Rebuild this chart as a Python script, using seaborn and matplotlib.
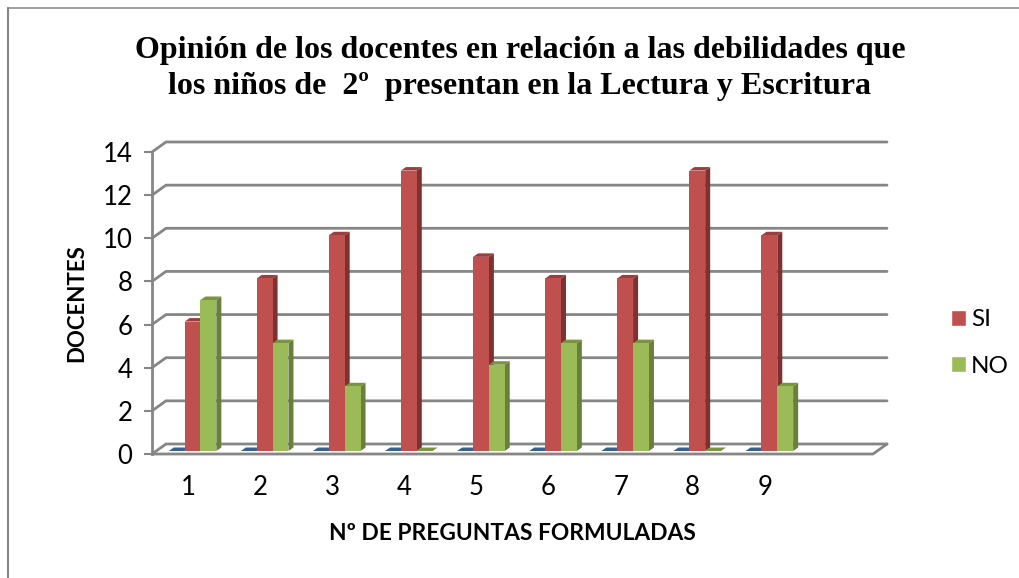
import numpy as np
import pandas as pd
import seaborn as sns
import matplotlib.pyplot as plt
from matplotlib.patches import Polygon

preguntas = ['1', '2', '3', '4', '5', '6', '7', '8', '9']
serie_vacia = [0, 0, 0, 0, 0, 0, 0, 0, 0]
si = [6, 8, 10, 13, 9, 8, 8, 13, 10]
no = [7, 5, 3, 0, 4, 5, 5, 0, 3]
y_ticks = [0, 2, 4, 6, 8, 10, 12, 14]

GRID = '#868686'
colors = {'': '#4f81bd', 'SI': '#c0504d', 'NO': '#9bbb59'}
side_colors = {'': '#2f4d71', 'SI': '#7d3230', 'NO': '#68803a'}
top_colors = {'': '#3a6090', 'SI': '#9a3f3d', 'NO': '#7a9440'}
layer = {'': 5, 'SI': 6, 'NO': 7}

sns.set_theme(style='white')
plt.rcParams['font.family'] = ['Lato', 'DejaVu Sans']

df = pd.DataFrame({
    'pregunta': preguntas * 3,
    'serie': [''] * 9 + ['SI'] * 9 + ['NO'] * 9,
    'docentes': serie_vacia + si + no,
})

W, H = 1020, 578
fig = plt.figure(figsize=(W / 100, H / 100), dpi=100)
ax = fig.add_axes([152 / W, 1 - 454 / H, 721 / W, 302 / H])

sns.barplot(data=df, x='pregunta', y='docentes', hue='serie', order=preguntas,
            palette=colors, width=0.66, gap=0, saturation=1, linewidth=0,
            legend=False, ax=ax, zorder=5)
ax.set_xlim(-0.5, 9.5)
ax.set_ylim(0, 14)

# depth of the walls and of the bars, in data units
wall_x, wall_y = 14 / 72.1, 10 / 21.57
bar_x, bar_y = 5 / 72.1, 3.5 / 21.57
shift_x, shift_y = 4.5 / 72.1, 3 / 21.57

# gridlines on the back wall plus the short diagonal on the side wall
x0, x1 = ax.get_xlim()
for t in y_ticks:
    ax.plot([x0, x0 + wall_x, x1 + wall_x], [t, t + wall_y, t + wall_y],
            color=GRID, lw=2, clip_on=False, zorder=1, solid_joinstyle='miter')
# floor
ax.plot([x0, x1, x1 + wall_x], [0, 0, wall_y], color=GRID, lw=2,
        clip_on=False, zorder=1)

# move the bars into the middle of the floor and give them sides
keys = [''] * 9 + ['SI'] * 9 + ['NO'] * 9
for bar, key in zip(ax.patches, keys):
    bar.set_x(bar.get_x() + shift_x)
    bar.set_y(shift_y)
    bar.set_clip_on(False)
    bar.set_zorder(layer[key] + 0.5)
    x, w, h = bar.get_x(), bar.get_width(), bar.get_height()
    y = shift_y
    ax.add_patch(Polygon([(x, y + h), (x + w, y + h), (x + w + bar_x, y + h + bar_y),
                          (x + bar_x, y + h + bar_y)], closed=True, fc=top_colors[key],
                         ec='none', clip_on=False, zorder=layer[key]))
    if h > 0:
        ax.add_patch(Polygon([(x + w, y), (x + w + bar_x, y + bar_y),
                              (x + w + bar_x, y + h + bar_y), (x + w, y + h)], closed=True,
                             fc=side_colors[key], ec='none', clip_on=False, zorder=layer[key]))

sns.despine(ax=ax, top=True, right=True, bottom=True)
ax.spines['left'].set_color(GRID)
ax.spines['left'].set_linewidth(2)
ax.set_yticks(y_ticks)
ax.tick_params(axis='y', length=6, width=1.5, color=GRID, labelsize=18.5, left=True, pad=8,
               labelcolor='black')
ax.tick_params(axis='x', length=0, labelsize=18.5, pad=15, labelcolor='black')
ax.set_xlabel('Nº DE PREGUNTAS FORMULADAS', fontsize=16.4, fontweight='bold', color='black', labelpad=17)
ax.set_ylabel('DOCENTES', fontsize=16, fontweight='bold', color='black', labelpad=11)

fig.text(520 / W, 1 - 68.5 / H,
         'Opinión de los docentes en relación a las debilidades que\nlos niños de  2º  presentan en la Lectura y Escritura',
         ha='center', va='center', fontsize=23, fontweight='bold', color='black',
         family=['Liberation Serif'], linespacing=1.32)

# legend
handles = [plt.Rectangle((0, 0), 1, 1, fc=colors[k]) for k in ['SI', 'NO']]
fig.legend(handles, ['SI', 'NO'], loc='center left', bbox_to_anchor=(951 / W, 1 - 343 / H),
           frameon=False, fontsize=17.5, handlelength=0.62, handleheight=0.62,
           handletextpad=0.2, labelspacing=1.05, labelcolor='black', borderpad=0, borderaxespad=0)

# outer frame of the document
fig.add_artist(plt.Line2D([8 / W, 8 / W], [0, 1 - 8 / H], color=GRID, lw=1.5))
fig.add_artist(plt.Line2D([8 / W, 1], [1 - 8 / H, 1 - 8 / H], color=GRID, lw=1.1))

fig.savefig('out.png', dpi=100)
